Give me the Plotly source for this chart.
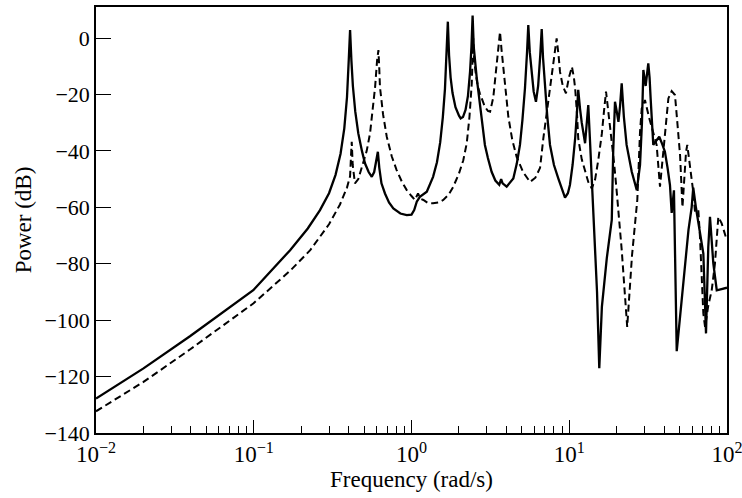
import plotly.graph_objects as go

# Solid curve (frequency in rad/s, power in dB)
solid_freq = [0.01, 0.02, 0.0394, 0.0993, 0.17, 0.22, 0.263, 0.30, 0.33, 0.355, 0.375, 0.39,
              0.40, 0.408, 0.416, 0.425, 0.44, 0.46, 0.485, 0.507, 0.535, 0.56, 0.58, 0.60,
              0.612, 0.625, 0.645, 0.679, 0.72, 0.767, 0.85, 0.933, 1.0, 1.04, 1.08, 1.13,
              1.25, 1.37, 1.45, 1.52, 1.58, 1.63, 1.67, 1.70, 1.73, 1.77, 1.82, 1.90, 2.0,
              2.05, 2.12, 2.2, 2.28, 2.35, 2.40, 2.44, 2.48, 2.53, 2.59, 2.72, 2.82, 2.92,
              3.05, 3.22, 3.40, 3.60, 3.70, 3.78, 4.01, 4.2, 4.42, 4.65, 4.87, 5.05, 5.24,
              5.40, 5.50, 5.62, 5.78, 5.95, 6.15, 6.35, 6.55, 6.69, 6.82, 7.02, 7.25, 7.55,
              8.0, 8.53, 9.0, 9.40, 9.8, 10.1, 10.5, 10.9, 11.2, 11.4, 11.7, 12.0, 12.6,
              12.9, 13.2, 13.5, 13.9, 14.2, 15.0, 15.5, 16.1, 17.3, 18.6, 19.0, 19.5, 20.0,
              20.5, 21.0, 21.5, 22.2, 23.1, 24.9, 26.8, 28.1, 28.9, 29.5, 30.5, 31.7, 32.3,
              32.8, 33.5, 34.1, 35.5, 37.2, 38.8, 40.4, 42.0, 43.5, 44.6, 46.1, 48.0, 52.8,
              57.0, 59.7, 61.1, 63.5, 65.8, 70.8, 73.6, 76.1, 78.0, 81.9, 86.1, 97.1, 100]
solid_db = [-127.8, -117.1, -105.7, -89.4, -75.2, -67.5, -61.0, -55.0, -48.5, -41.0, -32.0, -21.0,
            -8.0, 2.8, -8.0, -17.0, -26.0, -33.8, -40.0, -44.4, -47.5, -49.2, -47.5, -43.5,
            -40.3, -46.0, -51.5, -55.1, -58.3, -60.4, -62.2, -62.8, -62.6, -61.0, -58.0, -56.3,
            -54.5, -49.2, -44.0, -37.0, -28.0, -18.0, -6.0, 5.8, -6.0, -14.0, -19.5, -24.5, -27.5,
            -28.5, -28.0, -25.5, -20.5, -12.0, -3.0, 8.0, -3.0, -9.5, -14.0, -23.8, -31.0, -37.9,
            -42.5, -47.4, -50.5, -52.0, -50.0, -51.5, -52.7, -51.5, -49.8, -44.5, -37.9, -29.0, -17.8,
            -5.0, 4.6, -5.0, -13.0, -19.0, -22.6, -17.0, -6.0, 3.2, -7.0, -17.8, -27.5, -37.9,
            -45.0, -49.8, -54.0, -56.6, -55.0, -52.1, -45.0, -35.6, -26.0, -18.4, -25.0, -30.0, -37.3,
            -31.0, -23.8, -35.0, -51.0, -60.0, -90.0, -117.0, -95.3, -78.0, -64.5, -40.0, -22.6, -26.0,
            -29.7, -24.0, -16.1, -28.0, -37.9, -47.4, -53.9, -45.0, -30.0, -11.3, -17.0, -9.0, -14.0,
            -21.4, -31.0, -37.9, -36.5, -35.0, -37.5, -40.3, -46.0, -52.1, -62.0, -54.0, -111.0, -86.0,
            -68.0, -60.0, -53.0, -60.0, -65.7, -76.4, -104.7, -74.0, -63.4, -79.9, -89.4, -88.8, -88.5]

# Dashed curve
dashed_freq = [0.01, 0.02, 0.0394, 0.0993, 0.17, 0.228, 0.30, 0.352, 0.39, 0.408, 0.415, 0.418,
               0.424, 0.438, 0.46, 0.494, 0.52, 0.546, 0.57, 0.588, 0.605, 0.617, 0.624, 0.631,
               0.66, 0.697, 0.75, 0.805, 0.87, 0.933, 1.0, 1.05, 1.10, 1.14, 1.19, 1.27, 1.37,
               1.48, 1.59, 1.72, 1.84, 2.0, 2.13, 2.24, 2.33, 2.41, 2.46, 2.50, 2.56, 2.63,
               2.71, 2.82, 2.92, 3.05, 3.15, 3.30, 3.47, 3.58, 3.64, 3.72, 3.82, 3.95, 4.11,
               4.35, 4.64, 5.1, 5.64, 6.1, 6.53, 6.85, 7.2, 7.55, 7.95, 8.32, 8.55, 8.74, 9.1,
               9.53, 9.95, 10.4, 10.7, 10.9, 11.2, 11.4, 12.0, 12.6, 13.2, 13.9, 14.6, 15.3,
               16.1, 16.6, 17.1, 17.6, 18.1, 18.6, 19.3, 20.0, 21.5, 23.3, 25.0, 27.0, 28.1,
               28.8, 30.2, 32.0, 34.0, 35.8, 37.6, 40.4, 42.5, 44.6, 46.8, 48.4, 50.4, 52.2,
               55.0, 56.0, 58.3, 61.1, 62.7, 65.8, 67.4, 70.8, 72.6, 76.0, 80.0, 83.9, 88.1,
               92.5, 99.6]
dashed_db = [-132.3, -121.9, -110.4, -94.1, -82.5, -75.2, -66.0, -59.0, -53.0, -49.0, -40.0, -36.8,
             -45.0, -51.5, -50.0, -44.4, -40.0, -33.8, -25.0, -17.3, -8.0, -4.3, -10.0, -17.3,
             -27.0, -35.0, -42.0, -46.8, -51.0, -53.9, -56.0, -57.4, -55.1, -57.0, -57.4, -58.5, -58.6,
             -58.3, -57.4, -55.5, -52.7, -48.0, -43.3, -37.3, -28.0, -16.1, 0.0, -8.0, -13.0, -17.0,
             -19.6, -22.5, -24.4, -25.8, -26.1, -21.0, -10.2, -2.0, 2.2, -4.0, -10.2, -19.0, -27.9,
             -36.0, -42.1, -47.5, -51.0, -49.5, -46.0, -35.6, -27.0, -17.8, -8.0, -0.1, -6.0, -12.0, -17.0,
             -19.6, -14.0, -10.2, -14.0, -17.8, -27.0, -35.6, -43.0, -47.4, -51.0, -53.3, -50.0, -43.0,
             -33.8, -26.0, -19.0, -25.0, -31.0, -35.6, -45.0, -54.5, -75.0, -102.4, -77.0, -57.4, -33.2,
             -25.0, -22.0, -28.0, -33.0, -37.9, -52.7, -35.6, -21.4, -18.8, -20.2, -29.7, -41.5, -60.0,
             -40.3, -37.9, -45.0, -54.5, -61.6, -61.0, -70.5, -97.6, -102.4, -95.0, -89.4, -79.9, -63.4,
             -65.7, -71.6]

x_tickvals = [0.01, 0.1, 1, 10, 100]
x_ticktext = ["10<sup>\u22122</sup>", "10<sup>\u22121</sup>", "10<sup>0</sup>",
              "10<sup>1</sup>", "10<sup>2</sup>"]
x_minor = [m * 10 ** e for e in (-2, -1, 0, 1) for m in range(2, 10)]
y_tickvals = [0, -20, -40, -60, -80, -100, -120, -140]

font_family = "Liberation Serif"

fig = go.Figure()
fig.add_trace(go.Scatter(x=solid_freq, y=solid_db, mode="lines",
                         line=dict(color="black", width=2.3), showlegend=False))
fig.add_trace(go.Scatter(x=dashed_freq, y=dashed_db, mode="lines",
                         line=dict(color="black", width=2, dash="7px,4px"), showlegend=False))

fig.update_layout(
    width=742, height=498,
    margin=dict(l=96, r=15, t=7, b=65, autoexpand=False),
    paper_bgcolor="white", plot_bgcolor="white",
    font=dict(family=font_family, size=22, color="black"),
)
fig.update_xaxes(
    type="log", range=[-2, 2], automargin=False,
    tickmode="array", tickvals=x_tickvals, ticktext=x_ticktext,
    ticks="inside", ticklen=13, tickwidth=1, tickcolor="black",
    minor=dict(tickmode="array", tickvals=x_minor, ticks="inside", ticklen=7,
               tickwidth=1, tickcolor="black", showgrid=False),
    showline=True, linecolor="black", linewidth=1.5, mirror=True,
    showgrid=False, zeroline=False,
    ticklabeloverflow="allow",
    title=dict(text="Frequency (rad/s)", font=dict(size=23), standoff=4),
    tickfont=dict(size=23),
)
fig.update_yaxes(
    range=[-140, 11], automargin=False,
    tickmode="array", tickvals=y_tickvals,
    ticks="inside", ticklen=15, tickwidth=1, tickcolor="black",
    showline=True, linecolor="black", linewidth=1.5, mirror=True,
    showgrid=False, zeroline=False,
    ticklabeloverflow="allow",
    title=dict(text="Power (dB)", font=dict(size=23), standoff=6),
    tickfont=dict(size=22),
)

fig.write_html("out.html")
